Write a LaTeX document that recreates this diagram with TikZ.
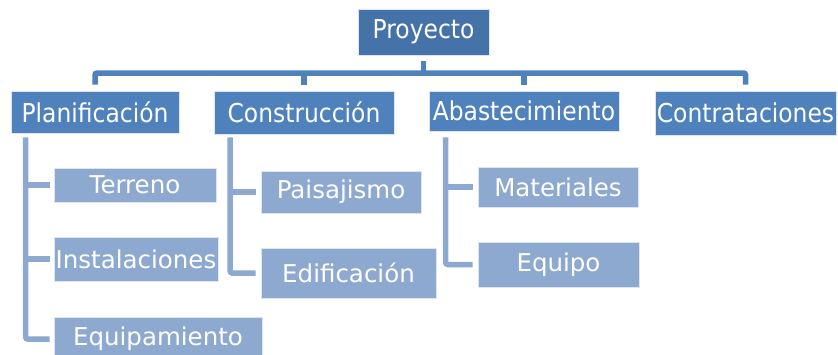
\documentclass[tikz,border=0pt]{standalone}
\usepackage{fontspec}
\setmainfont{DejaVu Sans}
\newfontfamily\wbscond[FakeStretch=0.9]{DejaVu Sans}
\usetikzlibrary{positioning}
\definecolor{wbsdark}{RGB}{70,114,170}
\definecolor{wbsblue}{RGB}{79,129,189}
\definecolor{wbslight}{RGB}{142,169,207}
\tikzset{
  wbsbox/.style={rectangle, draw=white!80!wbsblue, line width=0.6pt, text=white, inner sep=0pt},
  lvlone/.style={wbsbox, fill=wbsdark, font=\wbscond\fontsize{26}{30}\selectfont},
  lvltwo/.style={wbsbox, fill=wbsblue, font=\wbscond\fontsize{26}{30}\selectfont},
  lvlthree/.style={wbsbox, fill=wbslight, font=\fontsize{24.5}{29}\selectfont},
  topline/.style={wbsblue, line width=5.5pt, rounded corners=2pt},
  subline/.style={wbslight, line width=5.5pt, rounded corners=2pt}
}

\begin{document}
\begin{tikzpicture}[x=1pt, y=-1pt]
\useasboundingbox (0,0) rectangle (838,354);
% Root
\node[lvlone, minimum width=131pt, minimum height=46pt] (proy) at (423.5,32) {Proyecto};
% Second level
\node[lvltwo, minimum width=168pt, minimum height=42pt] (plan) at (95,112) {Planificación};
\node[lvltwo, minimum width=180pt, minimum height=43pt] (cons) at (304,112.5) {Construcción};
\node[lvltwo, minimum width=190pt, minimum height=40pt] (abas) at (524,111) {Abastecimiento};
\node[lvltwo, minimum width=181pt, minimum height=44pt] (contr) at (745.5,113) {Contrataciones};
% Third level
\node[lvlthree, minimum width=162pt, minimum height=34pt] (terr) at (135,185) {Terreno};
\node[lvlthree, minimum width=164pt, minimum height=44pt] (inst) at (136,259) {Instalaciones};
\node[lvlthree, minimum width=208pt, minimum height=44pt] (equi) at (158,339) {Equipamiento};
\node[lvlthree, minimum width=160pt, minimum height=42pt] (pais) at (341,192) {Paisajismo};
\node[lvlthree, minimum width=175pt, minimum height=50pt] (edif) at (348.5,273) {Edificación};
\node[lvlthree, minimum width=160pt, minimum height=40pt] (mate) at (558,187) {Materiales};
\node[lvlthree, minimum width=161pt, minimum height=45pt] (equo) at (558.5,264.5) {Equipo};
% Root connectors
\coordinate (bar) at (423.5,73);
\draw[topline] ([yshift=-6pt]proy.south) -- (bar);
\draw[topline] ([yshift=6pt]plan.north) |- (bar) -| ([yshift=6pt]contr.north);
\draw[topline] ([yshift=6pt]cons.north) -- (cons.north |- bar);
\draw[topline] ([yshift=6pt]abas.north) -- (abas.north |- bar);
% Branch connectors
\coordinate (planspine) at ([xshift=15pt, yshift=-4pt]plan.south west);
\coordinate (consspine) at ([xshift=16.5pt, yshift=-3pt]cons.south west);
\coordinate (abasspine) at ([xshift=17pt, yshift=-6pt]abas.south west);
\draw[subline] (planspine) |- ([xshift=-4pt]equi.west);
\draw[subline] (planspine |- terr.west) -- ([xshift=-4pt]terr.west);
\draw[subline] (planspine |- inst.west) -- ([xshift=-4pt]inst.west);
\draw[subline] (consspine) |- ([xshift=-5pt]edif.west);
\draw[subline] (consspine |- pais.west) -- ([xshift=-5pt]pais.west);
\draw[subline] (abasspine) |- ([xshift=-5pt]equo.west);
\draw[subline] (abasspine |- mate.west) -- ([xshift=-5pt]mate.west);
\end{tikzpicture}
\end{document}
